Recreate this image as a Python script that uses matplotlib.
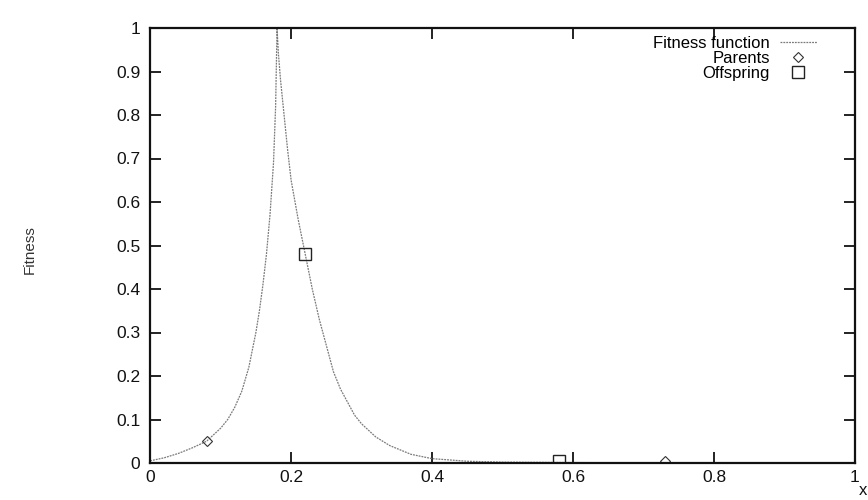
import matplotlib
matplotlib.use("Agg")
import matplotlib.pyplot as plt

plt.rcParams['font.family'] = ['Liberation Sans', 'DejaVu Sans']

# fitness curve
fit_x = [0.0, 0.02, 0.04, 0.06, 0.08, 0.10, 0.11, 0.12, 0.13, 0.14, 0.145, 0.15, 0.155, 0.16, 0.165,
         0.17, 0.175, 0.178, 0.18, 0.182, 0.185, 0.19, 0.195, 0.20, 0.21, 0.22, 0.23, 0.24, 0.25,
         0.26, 0.27, 0.28, 0.29, 0.30, 0.32, 0.34, 0.37, 0.40, 0.45, 0.50, 0.60, 0.80, 1.0]
fit_y = [0.005, 0.012, 0.022, 0.035, 0.05, 0.08, 0.10, 0.128, 0.165, 0.22, 0.26, 0.30, 0.35, 0.41, 0.48,
         0.57, 0.69, 0.82, 1.0, 0.94, 0.88, 0.80, 0.72, 0.65, 0.56, 0.48, 0.40, 0.33, 0.27,
         0.21, 0.17, 0.14, 0.11, 0.09, 0.06, 0.04, 0.02, 0.01, 0.004, 0.002, 0.001, 0.0, 0.0]

parents_x = [0.08, 0.73]
parents_y = [0.05, 0.005]
offspring_x = [0.22, 0.58]
offspring_y = [0.48, 0.005]

xticks = [0, 0.2, 0.4, 0.6, 0.8, 1]
xtick_labels = ['0', '0.2', '0.4', '0.6', '0.8', '1']
yticks = [0, 0.1, 0.2, 0.3, 0.4, 0.5, 0.6, 0.7, 0.8, 0.9, 1]
ytick_labels = ['0', '0.1', '0.2', '0.3', '0.4', '0.5', '0.6', '0.7', '0.8', '0.9', '1']

fig = plt.figure(figsize=(8.68, 5.0), dpi=100)
ax = fig.add_axes([0.173, 0.074, 0.812, 0.87])

ax.plot(fit_x, fit_y, color='#7a7a7a', lw=0.9, ls=(0, (1.5, 0.8)), label='Fitness function')
ax.plot(parents_x, parents_y, ls='none', marker='D', ms=5.5, mfc='none', mec='#333333', mew=0.8,
        label='Parents')
ax.plot(offspring_x, offspring_y, ls='none', marker='s', ms=9, mfc='none', mec='#222222', mew=1.0,
        label='Offspring')

ax.set_xlim(0, 1)
ax.set_ylim(0, 1)
ax.set_xticks(xticks)
ax.set_xticklabels(xtick_labels)
ax.set_yticks(yticks)
ax.set_yticklabels(ytick_labels)
ax.tick_params(direction='in', length=8, width=1.3, top=True, right=True, labelsize=12.5, pad=7,
               colors='#111111')
ax.tick_params(axis='x', pad=5)
for s in ax.spines.values():
    s.set_linewidth(1.6)
    s.set_color('#111111')

fig.text(0.034, 0.5, 'Fitness', rotation=90, ha='center', va='center', fontsize=11, color='#333333')
fig.text(0.994, 0.004, 'x', ha='center', va='bottom', fontsize=12, color='#111111')

leg = ax.legend(loc='upper right', frameon=False, markerfirst=False, fontsize=12,
                handlelength=2.2, handletextpad=0.6, borderaxespad=0.2, labelspacing=0.0,
                bbox_to_anchor=(0.96, 1.005))
for t in leg.get_texts():
    t.set_ha('right')
leg._legend_box.align = 'right'

fig.savefig('out.png', dpi=100)
